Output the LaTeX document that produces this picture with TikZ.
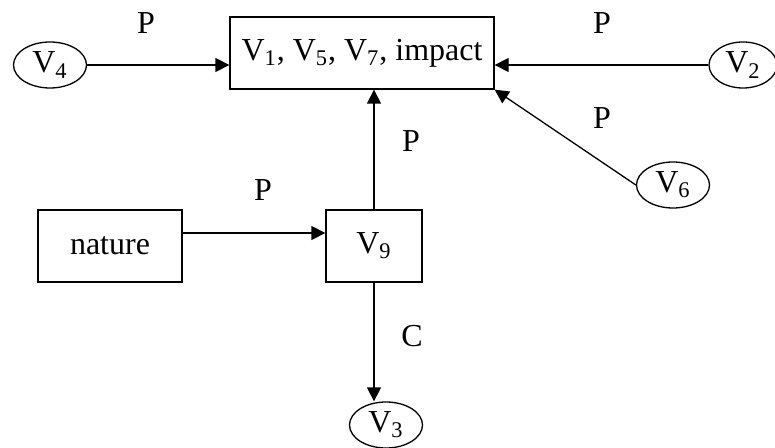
\documentclass[tikz,border=0pt]{standalone}
\usepackage{fontspec}
\setmainfont{Liberation Serif}
\usetikzlibrary{arrows.meta,shapes.geometric}
\tikzset{
  varbox/.style  = {draw, line width=0.65pt, inner sep=0pt, minimum height=36pt, font=\fontsize{16}{19}\selectfont},
  varoval/.style = {draw, ellipse, line width=0.65pt, inner sep=0pt, minimum width=36.5pt, minimum height=23pt, font=\fontsize{16}{19}\selectfont},
  link/.style    = {-{Triangle[length=7pt,width=7pt]}, line width=0.65pt},
  lbl/.style     = {inner sep=0pt, font=\fontsize{16}{19}\selectfont},
}
\newcommand{\var}[1]{V\textsubscript{#1}}

\begin{document}
\begin{tikzpicture}[x=0.5pt,y=-0.5pt]
  \useasboundingbox (0,0) rectangle (775,448);
  % boxes
  \node[varbox, minimum width=132pt] (impact) at (362,53) {\var{1}, \var{5}, \var{7}, impact};
  \node[varbox, minimum width=72pt] (nature) at (110,246) {nature};
  \node[varbox, minimum width=48pt] (v9) at (374,246) {\var{9}};
  % ovals
  \node[varoval] (v4) at (50,65) {\var{4}};
  \node[varoval, minimum width=34pt] (v2) at (743,65) {\var{2}};
  \node[varoval] (v6) at (673,185) {\var{6}};
  \node[varoval] (v3) at (386,425) {\var{3}};
  % connectors
  \draw[link] (v4.east) -- (v4 -| impact.west);
  \draw[link] (v2.west) -- (v2 -| impact.east);
  \draw[link] (v6.west) -- (impact.south east);
  \draw[link] (v9.north) -- (v9.north |- impact.south);
  \draw[link] ([yshift=6.5pt]nature.east) -- ([yshift=6.5pt]v9.west);
  \draw[link] (v9.south) -- (v9.south |- v3.north);
  % labels
  \node[lbl] (p4) at (146,23) {P};
  \node[lbl] (p2) at (602,23) {P};
  \node[lbl] (p6) at (602,118) {P};
  \node[lbl] (p9) at (411,141) {P};
  \node[lbl] (pn) at (263,190) {P};
  \node[lbl] (c3) at (412,336) {C};
\end{tikzpicture}
\end{document}
